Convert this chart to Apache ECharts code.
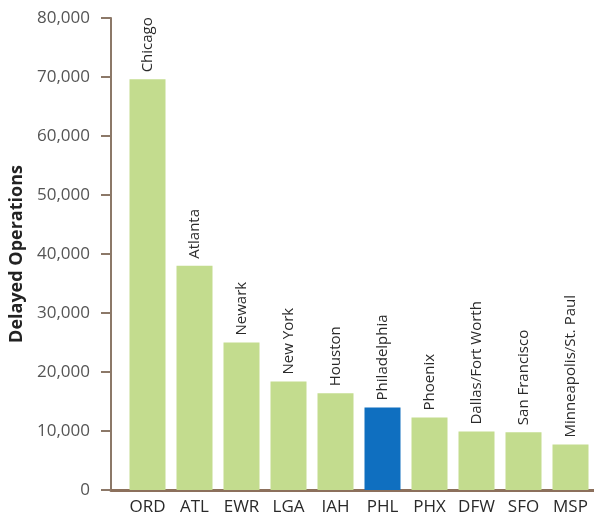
<!DOCTYPE html>
<html><head><meta charset="utf-8">
<script src="https://cdn.jsdelivr.net/npm/echarts@6/dist/echarts.min.js"></script>
<style>html,body{margin:0;padding:0;background:#fff}#c{width:594px;height:517px}</style>
</head><body><div id="c"></div>
<script>
const codes = ['ORD','ATL','EWR','LGA','IAH','PHL','PHX','DFW','SFO','MSP'];
const cities = ['Chicago','Atlanta','Newark','New York','Houston','Philadelphia','Phoenix','Dallas/Fort Worth','San Francisco','Minneapolis/St. Paul'];
const delays = [69600, 38000, 25000, 18400, 16400, 14000, 12300, 9900, 9800, 7700];
const highlight = 'PHL';
const yTicks = [0, 10000, 20000, 30000, 40000, 50000, 60000, 70000, 80000];

const chart = echarts.init(document.getElementById('c'));
const font = 'Open Sans';
chart.setOption({
  animation: false,
  grid: [
    {left: 124, top: 18, width: 473.5, height: 472},
    {left: 111, top: 18, right: 0, height: 472}
  ],
  xAxis: [{
    type: 'category', data: codes, gridIndex: 0,
    axisLine: {show: false}, axisTick: {show: false},
    axisLabel: {color: '#2a2a2a', fontSize: 17, fontFamily: font, margin: 9, interval: 0, hideOverlap: false}
  }, {
    type: 'value', gridIndex: 1, min: 0, max: 1,
    axisLine: {show: true, lineStyle: {color: '#8c705c', width: 3}},
    axisTick: {show: false}, axisLabel: {show: false}, splitLine: {show: false}
  }],
  yAxis: [{
    type: 'value', gridIndex: 0, min: yTicks[0], max: yTicks[yTicks.length-1], interval: 10000,
    offset: 13,
    name: 'Delayed Operations', nameLocation: 'middle', nameGap: 82,
    nameTextStyle: {fontSize: 18, fontWeight: 'bold', color: '#222', fontFamily: font},
    axisLine: {show: true, lineStyle: {color: '#8c7868', width: 2}},
    axisTick: {show: true, length: 10, lineStyle: {color: '#8c7868', width: 2}},
    axisLabel: {color: '#555', fontSize: 17, fontFamily: font, margin: 21,
      formatter: v => v === 0 ? '0' : v.toLocaleString('en-US')},
    splitLine: {show: false}
  }, {
    type: 'value', gridIndex: 1, show: false
  }],
  series: [{
    type: 'bar', xAxisIndex: 0, yAxisIndex: 0, barWidth: 36,
    data: delays.map((v, i) => ({
      value: v,
      itemStyle: {color: codes[i] === highlight ? '#0f6fc0' : '#c3dc8e'}
    })),
    label: {
      show: true, position: 'top', rotate: 90, align: 'left', verticalAlign: 'middle',
      distance: 7, fontSize: 15, fontFamily: font, color: '#2a2a2a',
      formatter: p => cities[p.dataIndex]
    }
  }]
});
</script></body></html>
